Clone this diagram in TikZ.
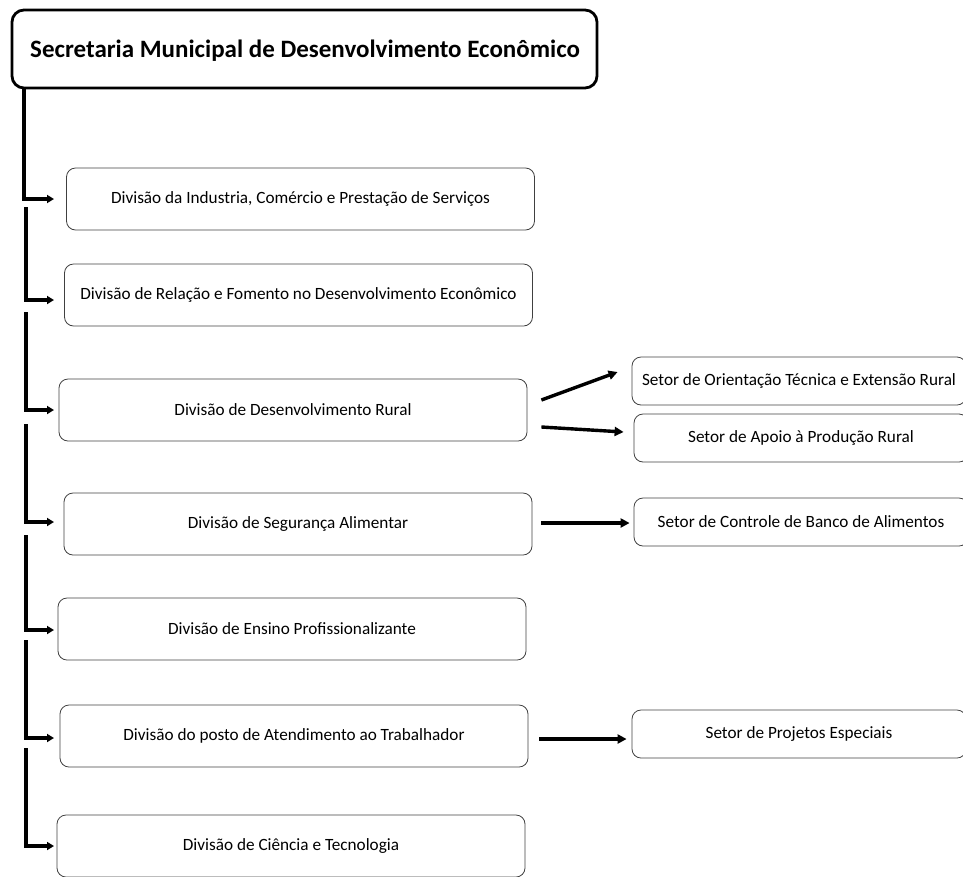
\documentclass[tikz,border=0pt]{standalone}
\usepackage{fontspec}
\setmainfont{Carlito}
\usetikzlibrary{arrows.meta}
\begin{document}
\begin{tikzpicture}[x=1pt,y=-1pt,
  topbox/.style={draw=black,line width=2.8pt,rounded corners=12pt,minimum width=585pt,minimum height=78pt,inner sep=0pt},
  divbox/.style={draw=black!75,line width=0.8pt,rounded corners=9pt,minimum width=468pt,minimum height=62pt,inner sep=0pt,font=\fontsize{17.2}{20}\selectfont},
  setbox/.style={draw=black!75,line width=0.8pt,rounded corners=9pt,minimum width=334pt,minimum height=48pt,inner sep=0pt,font=\fontsize{17.2}{20}\selectfont},
  conn/.style={line width=3.2pt,-{Triangle[length=7pt,width=8pt]}},
  sconn/.style={line width=3.4pt,-{Triangle[length=9pt,width=9pt]}}]
\useasboundingbox (0,0) rectangle (963,876);
\node[topbox] (top) at (304.5,49) {};
\node[font=\fontsize{25}{28}\selectfont\bfseries,anchor=west,inner sep=0pt] (toptext) at (30,51) {Secretaria Municipal de Desenvolvimento Econômico};

\node[divbox] (d1) at (300.5,199) {Divisão da Industria, Comércio e Prestação de Serviços};
\node[divbox] (d2) at (298.5,295) {Divisão de Relação e Fomento no Desenvolvimento Econômico};
\node[divbox] (d3) at (293,410) {Divisão de Desenvolvimento Rural};
\node[divbox] (d4) at (298,524) {Divisão de Segurança Alimentar};
\node[divbox] (d5) at (292,629) {Divisão de Ensino Profissionalizante};
\node[divbox] (d6) at (294,736) {Divisão do posto de Atendimento ao Trabalhador};
\node[divbox] (d7) at (291,846) {Divisão de Ciência e Tecnologia};

\node[setbox] (s1) at (799,381) {Setor de Orientação Técnica e Extensão Rural};
\node[setbox] (s2) at (801,438) {Setor de Apoio à Produção Rural};
\node[setbox] (s3) at (801,522) {Setor de Controle de Banco de Alimentos};
\node[setbox] (s4) at (799,734) {Setor de Projetos Especiais};

% left connectors
\coordinate (a0) at (24,88);
\coordinate (a1) at (26,207);
\coordinate (a2) at (26,312);
\coordinate (a3) at (26,424);
\coordinate (a4) at (26,535);
\coordinate (a5) at (26,640);
\coordinate (a6) at (26,748);
\coordinate (e1) at (54,199);
\coordinate (e2) at (54,300);
\coordinate (e3) at (54,410);
\coordinate (e4) at (54,522);
\coordinate (e5) at (54,630);
\coordinate (e6) at (54,738);
\coordinate (e7) at (54,846);
\draw[conn] (a0) |- (e1);
\draw[conn] (a1) |- (e2);
\draw[conn] (a2) |- (e3);
\draw[conn] (a3) |- (e4);
\draw[conn] (a4) |- (e5);
\draw[conn] (a5) |- (e6);
\draw[conn] (a6) |- (e7);

% right connectors
\draw[sconn] ([xshift=14pt,yshift=10pt]d3.east) -- ([xshift=-14pt,yshift=9pt]s1.west);
\draw[sconn] ([xshift=14pt,yshift=-17pt]d3.east) -- ([xshift=-10pt,yshift=6pt]s2.west);
\draw[sconn] ([xshift=9pt,yshift=1pt]d4.east) -- ([xshift=-4pt,yshift=1pt]s3.west |- d4.east);
\draw[sconn] ([xshift=11pt,yshift=-3pt]d6.east) -- ([xshift=-5pt,yshift=-5pt]s4.west);
\end{tikzpicture}
\end{document}
